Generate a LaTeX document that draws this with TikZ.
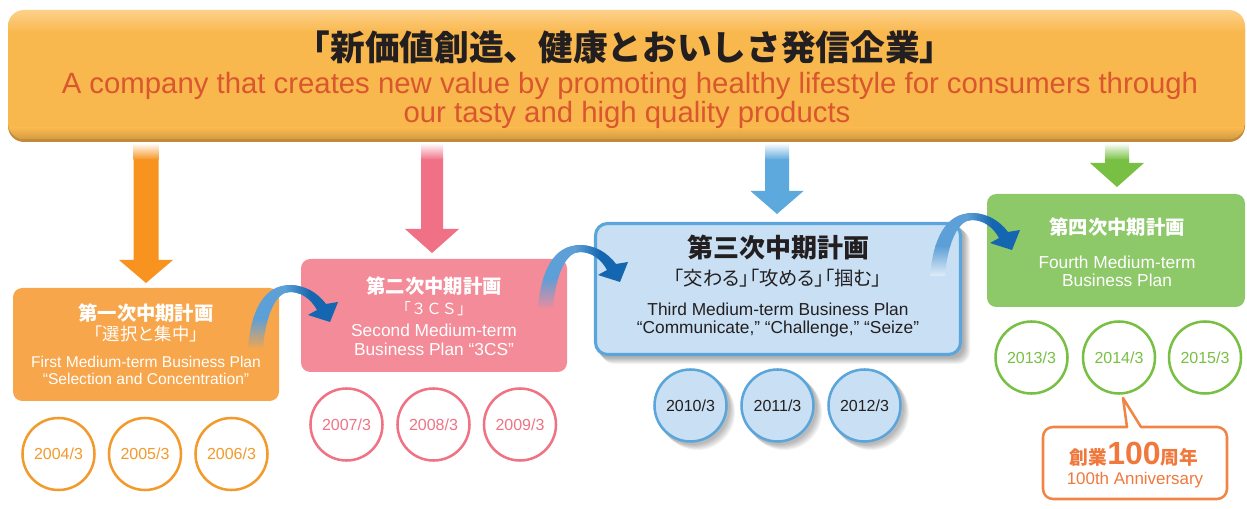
\documentclass[tikz,border=0pt]{standalone}
\usepackage{fontspec}
\setmainfont{Liberation Sans}
\newfontfamily\jp{Noto Sans CJK JP}
\definecolor{bannerA}{HTML}{FDD18A}
\definecolor{bannerB}{HTML}{F9B84E}
\definecolor{bannerEdge}{HTML}{C28B3A}
\definecolor{titleEn}{HTML}{D9562E}
\definecolor{titleJp}{HTML}{231F20}
\definecolor{orA}{HTML}{F7931E}
\definecolor{orBox}{HTML}{F8A64B}
\definecolor{orLine}{HTML}{F39A2D}
\definecolor{pkA}{HTML}{F07086}
\definecolor{pkBox}{HTML}{F48B98}
\definecolor{pkLine}{HTML}{EF7385}
\definecolor{blA}{HTML}{5DA8DD}
\definecolor{blBox}{HTML}{C9DFF3}
\definecolor{blLine}{HTML}{5AA5DA}
\definecolor{gnA}{HTML}{78C043}
\definecolor{gnBox}{HTML}{8DC869}
\definecolor{gnLine}{HTML}{78C043}
\definecolor{cbLine}{HTML}{F08546}
\definecolor{cbText}{HTML}{F0783C}
\definecolor{rbDark}{HTML}{1566B0}
\definecolor{rbLight}{HTML}{5D9FD7}
\definecolor{darktext}{HTML}{231F20}

\newcommand\dnarrow[6]{% cx, headtop, tip, shaft half, head half, colour
  \shade[top color=white, bottom color=#6] (#1-#4,143) rectangle (#1+#4,160);
  \fill[#6] (#1-#4,159.5) -- (#1-#4,#2) -- (#1-#5,#2) -- (#1,#3) -- (#1+#5,#2) -- (#1+#4,#2) -- (#1+#4,159.5) -- cycle;
}
\newcommand\ribbon[3]{% shift x, shift y, fade colour
  \begin{scope}[shift={(#1,#2)}]
    \clip (248,348) .. controls (251,312) and (263,285) .. (290,285)
      .. controls (305,285) and (318,293) .. (326,304) -- (338,302) -- (330,322) -- (308,315) -- (317,310)
      .. controls (311,299) and (301,292) .. (290,292)
      .. controls (277,292) and (266,312) .. (263,348) -- cycle;
    \fill[rbLight] (240,280) rectangle (300,318);
    \shade[top color=rbLight, bottom color=#3] (240,318) rectangle (300,350);
    \shade[left color=rbLight, right color=rbDark] (285,278) rectangle (310,330);
    \fill[rbDark] (310,278) rectangle (345,330);
  \end{scope}
}

\tikzset{
  jpb/.style={font=\jp\bfseries\fontsize{14.5}{16}\selectfont, text=white, inner sep=0, anchor=base},
  jpr/.style={font=\jp\fontsize{13}{15}\selectfont, text=white, inner sep=0, anchor=base},
  en/.style={font=\fontsize{13}{15}\selectfont, text=white, inner sep=0, anchor=base},
  yc/.style={circle, draw=#1, line width=1.9pt, fill=white, minimum size=54pt, inner sep=0,
    font=\fontsize{12}{14}\selectfont, text=#1},
}

\begin{document}
\begin{tikzpicture}[x=0.75pt, y=-0.75pt]
\useasboundingbox (0,0) rectangle (1247,509);

% banner
\fill[bannerEdge, rounded corners=12pt] (8,13) rectangle (1245,142);
\begin{scope}
  \clip[rounded corners=12pt] (8,10) rectangle (1245,139);
  \shade[top color=bannerA, bottom color=bannerB] (8,10) rectangle (1245,32);
  \fill[bannerB] (8,31.5) rectangle (1245,139);
  \shade[top color=bannerB, bottom color=bannerB!85!black] (8,128) rectangle (1245,139);
\end{scope}
\node[font=\jp\bfseries\fontsize{26}{28}\selectfont, text=titleJp, inner sep=0, anchor=base] (tjp) at (625,61) {「新価値創造、健康とおいしさ発信企業」};
\node[font=\fontsize{22}{24}\selectfont, text=titleEn, inner sep=0, anchor=base] (ten1) at (630,94) {A company that creates new value by promoting healthy lifestyle for consumers through};
\node[font=\fontsize{22}{24}\selectfont, text=titleEn, inner sep=0, anchor=base] (ten2) at (627,123) {our tasty and high quality products};

% down arrows
\dnarrow{146}{260}{283}{12.5}{27}{orA}
\dnarrow{432}{229}{253}{11}{27}{pkA}
\dnarrow{777}{191}{214}{12}{26.5}{blA}
\dnarrow{1117}{163}{187}{12}{27}{gnA}

% box 1
\fill[orBox, rounded corners=7pt] (13,288) rectangle (279,401);
\node[jpb] (b1a) at (146,321) {第一次中期計画};
\node[jpr] (b1b) at (146,341) {「選択と集中」};
\node[en, font=\fontsize{11.7}{13}\selectfont] (b1c) at (146,368) {First Medium-term Business Plan};
\node[en, font=\fontsize{11.7}{13}\selectfont] (b1d) at (146,385) {“Selection and Concentration”};

% box 2
\fill[pkBox, rounded corners=7pt] (301,259) rectangle (567,372);
\node[jpb] (b2a) at (434,294) {第二次中期計画};
\node[jpr, font=\jp\fontsize{11.5}{14}\selectfont] (b2b) at (434,315) {「３ＣＳ」};
\node[en] (b2c) at (434,337) {Second Medium-term};
\node[en] (b2d) at (434,356) {Business Plan “3CS”};

% box 3 with shadow
\foreach \i in {1,...,7} {
  \fill[black, opacity=0.05, rounded corners=9pt] (594+\i+1,222+\i+1) rectangle (962+\i+1,356+\i+1);
}
\draw[blLine, fill=blBox, line width=2.3pt, rounded corners=9pt] (595.5,223.5) rectangle (960.5,354.5);
\node[jpb, text=darktext, font=\jp\bfseries\fontsize{19.5}{22}\selectfont] (b3a) at (778,258) {第三次中期計画};
\node[jpr, text=darktext, font=\jp\fontsize{14.5}{16}\selectfont\addfontfeatures{RawFeature=+palt}] (b3b) at (778,286) {「交わる」「攻める」「掴む」};
\node[en, text=darktext] (b3c) at (778,316) {Third Medium-term Business Plan};
\node[en, text=darktext] (b3d) at (778,334) {“Communicate,” “Challenge,” “Seize”};

% box 4
\fill[gnBox, rounded corners=7pt] (987,194) rectangle (1245,307);
\node[jpb] (b4a) at (1117,235) {第四次中期計画};
\node[en] (b4b) at (1117,269) {Fourth Medium-term};
\node[en] (b4c) at (1117,287) {Business Plan};

% curved ribbons
\ribbon{0}{0}{orBox}
\ribbon{290}{-40}{pkBox}
\ribbon{682}{-72}{blBox!40!white}

% year circles
\node[yc=orLine] (c1) at (58.5,454) {2004/3};
\node[yc=orLine] (c2) at (145,454) {2005/3};
\node[yc=orLine] (c3) at (231.5,454) {2006/3};
\node[yc=pkLine] (c4) at (346.5,424.5) {2007/3};
\node[yc=pkLine] (c5) at (433.5,424.5) {2008/3};
\node[yc=pkLine] (c6) at (520,424.5) {2009/3};
\foreach \cx in {690.5,777.5,864.5} {
  \foreach \i in {1,...,6} {
    \fill[black, opacity=0.05] (\cx+\i+1,405.5+\i+1) circle[radius=37.5];
  }
}
\node[yc=blLine, fill=blBox, text=darktext] (c7) at (690.5,405.5) {2010/3};
\node[yc=blLine, fill=blBox, text=darktext] (c8) at (777.5,405.5) {2011/3};
\node[yc=blLine, fill=blBox, text=darktext] (c9) at (864.5,405.5) {2012/3};
\node[yc=gnLine] (c10) at (1031.5,357.5) {2013/3};
\node[yc=gnLine] (c11) at (1119,357.5) {2014/3};
\node[yc=gnLine] (c12) at (1205,357.5) {2015/3};

% callout
\coordinate (cbtip) at (1123,398);
\draw[cbLine, fill=white, line width=1.9pt, line join=round]
  (1127,427) [rounded corners=7.5pt] -- (1043,427) -- (1043,499) -- (1227,499) -- (1227,427) [sharp corners] -- (1141,427) -- (cbtip) -- cycle;
\node[inner sep=0, anchor=base, text=cbText] (cb1) at (1134,465)
  {{\jp\bfseries\fontsize{14}{16}\selectfont 創業}{\bfseries\fontsize{24}{26}\selectfont 100}{\jp\bfseries\fontsize{14}{16}\selectfont 周年}};
\node[inner sep=0, anchor=base, text=cbText, font=\fontsize{12.7}{14}\selectfont] (cb2) at (1135,485) {100th Anniversary};

\end{tikzpicture}
\end{document}
